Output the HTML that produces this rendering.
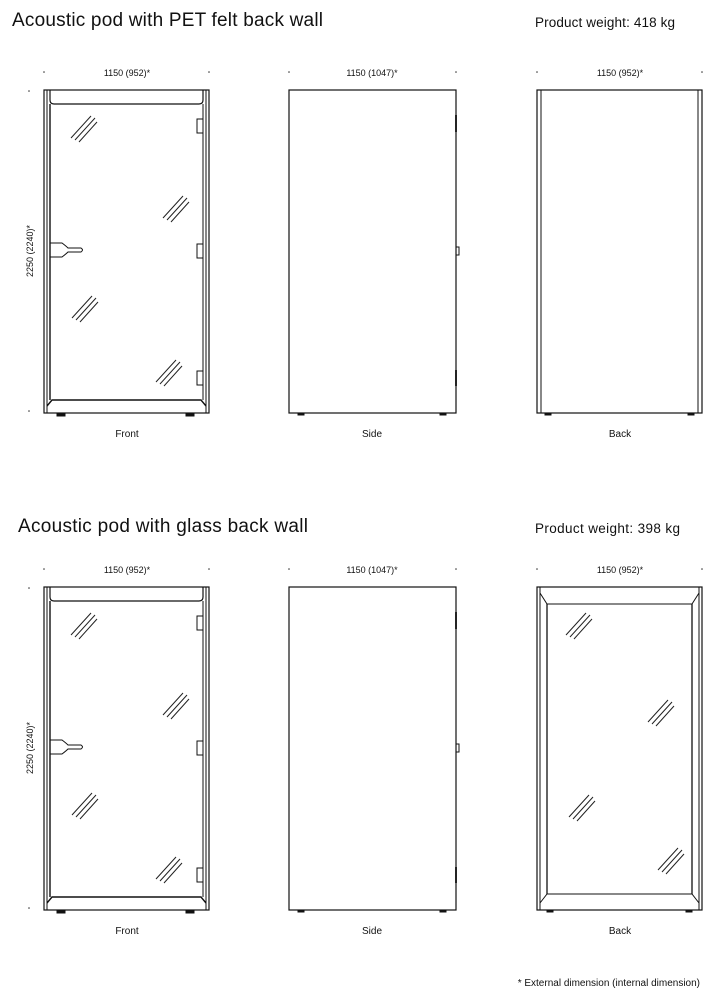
<!DOCTYPE html>
<html><head><meta charset="utf-8"><style>
html,body{margin:0;padding:0;background:#fff}
svg{display:block}
text{font-family:"Liberation Sans",sans-serif;fill:#111}
</style></head><body>
<svg width="718" height="1000" viewBox="0 0 718 1000" xmlns="http://www.w3.org/2000/svg">
<defs>
<g id="hatch" stroke="#222" stroke-width="1" fill="none">
<line x1="-12" y1="10" x2="8" y2="-12"/><line x1="-8" y1="12" x2="12" y2="-10"/><line x1="-4" y1="14" x2="14" y2="-6"/>
</g>
<g id="dims">
<circle cx="44" cy="72" r="0.8" fill="#333"/><circle cx="209" cy="72" r="0.8" fill="#333"/>
<circle cx="289" cy="72" r="0.8" fill="#333"/><circle cx="456" cy="72" r="0.8" fill="#333"/>
<circle cx="537" cy="72" r="0.8" fill="#333"/><circle cx="702" cy="72" r="0.8" fill="#333"/>
<circle cx="29" cy="91" r="0.8" fill="#333"/><circle cx="29" cy="411" r="0.8" fill="#333"/>
<text x="127" y="76" font-size="9" text-anchor="middle">1150 (952)*</text>
<text x="372" y="76" font-size="9" text-anchor="middle">1150 (1047)*</text>
<text x="620" y="76" font-size="9" text-anchor="middle">1150 (952)*</text>
<text transform="translate(33,251) rotate(-90)" font-size="9" text-anchor="middle">2250 (2240)*</text>
<text x="127" y="437" font-size="10" text-anchor="middle">Front</text>
<text x="372" y="437" font-size="10" text-anchor="middle">Side</text>
<text x="620" y="437" font-size="10" text-anchor="middle">Back</text>
</g>
<g id="front" fill="none" stroke="#111">
<rect x="44" y="90" width="165" height="323" stroke-width="1.2"/>
<line x1="47" y1="90" x2="47" y2="413"/><line x1="206" y1="90" x2="206" y2="413"/>
<path d="M50 90 V100 Q50 104 54 104 H199 Q203 104 203 100 V90" stroke-width="1.2"/>
<line x1="50" y1="104" x2="50" y2="400" stroke-width="1.4"/>
<line x1="203" y1="104" x2="203" y2="400"/>
<path d="M47 406 L52 400 H201 L206 406" stroke-width="1.4"/>
<rect x="57" y="413" width="8" height="3" fill="#111"/><rect x="186" y="413" width="8" height="3" fill="#111"/>
<rect x="197" y="119" width="6" height="14"/><rect x="197" y="244" width="6" height="14"/><rect x="197" y="371" width="6" height="14"/>
<path d="M50 243 H62 Q66 246 68 248 H81 Q84 250 81 252 H68 Q66 254 62 257 H50"/>
<use href="#hatch" x="83" y="128"/><use href="#hatch" x="175" y="208"/>
<use href="#hatch" x="84" y="308"/><use href="#hatch" x="168" y="372"/>
</g>
<g id="side" fill="none" stroke="#111">
<rect x="289" y="90" width="167" height="323" stroke-width="1.2"/>
<line x1="456" y1="115" x2="456" y2="132" stroke-width="1.8"/>
<rect x="456" y="247" width="3" height="8" stroke-width="1"/>
<line x1="456" y1="370" x2="456" y2="386" stroke-width="1.8"/>
<rect x="298" y="413" width="6" height="2" fill="#111"/><rect x="440" y="413" width="6" height="2" fill="#111"/>
</g>
</defs>

<text x="12" y="26" font-size="19" textLength="311">Acoustic pod with PET felt back wall</text>
<text x="535" y="27" font-size="13.5" textLength="140">Product weight: 418 kg</text>
<use href="#dims"/>
<use href="#front"/>
<use href="#side"/>
<g fill="none" stroke="#111">
<rect x="537" y="90" width="165" height="323" stroke-width="1.2"/>
<line x1="541" y1="90" x2="541" y2="413"/><line x1="698" y1="90" x2="698" y2="413"/>
<rect x="545" y="413" width="6" height="2" fill="#111"/><rect x="688" y="413" width="6" height="2" fill="#111"/>
</g>

<text x="18" y="532" font-size="19" textLength="290">Acoustic pod with glass back wall</text>
<text x="535" y="533" font-size="13.5" textLength="145">Product weight: 398 kg</text>
<g transform="translate(0,497)">
<use href="#dims"/>
<use href="#front"/>
<use href="#side"/>
<g fill="none" stroke="#111">
<rect x="537" y="90" width="165" height="323" stroke-width="1.2"/>
<line x1="540" y1="90" x2="540" y2="413"/><line x1="699" y1="90" x2="699" y2="413"/>
<path d="M540 96 L547 107 H692 L699 96" />
<path d="M540 406 L547 397 H692 L699 406" />
<line x1="547" y1="107" x2="547" y2="397" stroke-width="1.3"/><line x1="692" y1="107" x2="692" y2="397" stroke-width="1.3"/>
<rect x="547" y="413" width="6" height="2" fill="#111"/><rect x="686" y="413" width="6" height="2" fill="#111"/>
<use href="#hatch" x="578" y="128"/><use href="#hatch" x="660" y="215"/>
<use href="#hatch" x="581" y="310"/><use href="#hatch" x="670" y="363"/>
</g>
</g>
<text x="700" y="986" font-size="10" text-anchor="end">* External dimension (internal dimension)</text>
</svg>
</body></html>
